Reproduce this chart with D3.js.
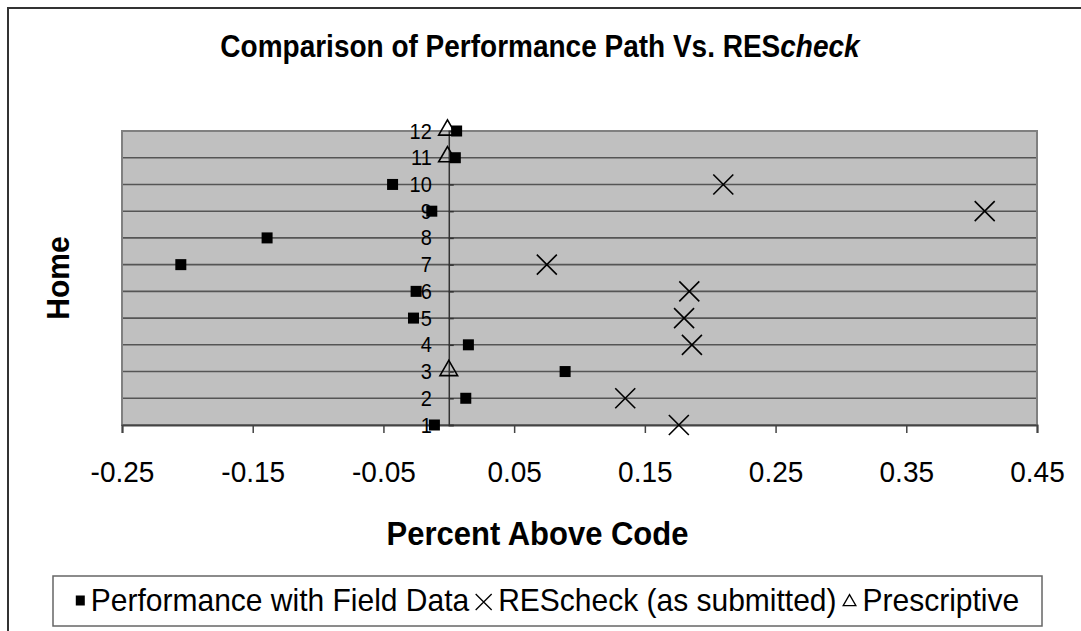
<!DOCTYPE html>
<html>
<head>
<meta charset="utf-8">
<script src="https://cdn.jsdelivr.net/npm/d3@7"></script>
<style>
  html, body { margin: 0; padding: 0; background: #fff; }
  svg { display: block; font-family: "Liberation Sans", Arial, sans-serif; }
</style>
</head>
<body>
<svg id="chart" width="1081" height="631"></svg>
<script>
// ---- Data ----
const homes = [1, 2, 3, 4, 5, 6, 7, 8, 9, 10, 11, 12];
const fieldData = [
  {home: 1, value: -0.011}, {home: 2, value: 0.013}, {home: 3, value: 0.089},
  {home: 4, value: 0.015}, {home: 5, value: -0.027}, {home: 6, value: -0.025},
  {home: 7, value: -0.205}, {home: 8, value: -0.139}, {home: 9, value: -0.013},
  {home: 10, value: -0.043}, {home: 11, value: 0.005}, {home: 12, value: 0.006}
];
const rescheck = [
  {home: 1, value: 0.176}, {home: 2, value: 0.135}, {home: 4, value: 0.186},
  {home: 5, value: 0.180}, {home: 6, value: 0.184}, {home: 7, value: 0.075},
  {home: 9, value: 0.410}, {home: 10, value: 0.210}
];
const prescriptive = [
  {home: 3, value: 0.0}, {home: 11, value: -0.001}, {home: 12, value: -0.001}
];
const xTicks = [-0.25, -0.15, -0.05, 0.05, 0.15, 0.25, 0.35, 0.45];
const legendLabels = ["Performance with Field Data", "REScheck (as submitted)", "Prescriptive"];

// ---- Layout ----
const svg = d3.select("#chart");
const plot = {left: 122, right: 1037, top: 131, bottom: 425};

const x = d3.scaleLinear().domain([-0.25, 0.45]).range([plot.left, plot.right]);
const y = d3.scaleLinear().domain([1, 12]).range([plot.bottom, plot.top]);

// outer chart border
svg.append("rect").attr("x", 8).attr("y", 8).attr("width", 1200).attr("height", 800)
  .attr("fill", "#fff").attr("stroke", "#333").attr("stroke-width", 2);

// plot background
svg.append("rect")
  .attr("x", plot.left).attr("y", plot.top)
  .attr("width", plot.right - plot.left).attr("height", plot.bottom - plot.top)
  .attr("fill", "#C0C0C0");

// horizontal gridlines
svg.append("g").selectAll("line").data(homes.filter(h => h > 1 && h < 12)).join("line")
  .attr("x1", plot.left).attr("x2", plot.right)
  .attr("y1", d => y(d)).attr("y2", d => y(d))
  .attr("stroke", "#555").attr("stroke-width", 1.6);

// plot border
svg.append("rect")
  .attr("x", plot.left).attr("y", plot.top)
  .attr("width", plot.right - plot.left).attr("height", plot.bottom - plot.top)
  .attr("fill", "none").attr("stroke", "#808080").attr("stroke-width", 2);

// x axis (at bottom)
const xAxis = d3.axisBottom(x).tickValues(xTicks).tickSize(8).tickFormat(d3.format(".2f"));
const gx = svg.append("g").attr("transform", `translate(0,${plot.bottom})`).call(xAxis);
gx.select(".domain").attr("stroke", "#444").attr("stroke-width", 2);
gx.selectAll(".tick line").attr("stroke", "#444").attr("stroke-width", 1.5);
gx.selectAll(".tick text").attr("font-size", 28).attr("fill", "#000")
  .attr("font-family", "Liberation Sans, Arial, sans-serif")
  .attr("y", 0).attr("dy", 0)
  .attr("transform", "translate(0,57) scale(1,1.08)")
  .text(d => d3.format(".2f")(d).replace("−", "-"));

// y axis (crossing at x = 0)
const yAxis = d3.axisRight(y).tickValues(homes).tickSize(5).tickFormat(d3.format("d"));
const gy = svg.append("g").attr("transform", `translate(${x(0)},0)`).call(yAxis);
gy.select(".domain").attr("stroke", "#333").attr("stroke-width", 1.5);
gy.selectAll(".tick line").attr("stroke", "#333").attr("stroke-width", 1.5);
gy.selectAll(".tick text").attr("font-size", 20).attr("fill", "#000")
  .attr("font-family", "Liberation Sans, Arial, sans-serif")
  .attr("text-anchor", "end").attr("x", -17)
  .attr("transform", "scale(1,1.1)").attr("y", 0);
gy.selectAll(".tick text").attr("transform", "scale(1,1.1)");

// title
const title = svg.append("text").attr("text-anchor", "middle")
  .attr("transform", "translate(540,57) scale(1,1.1)")
  .attr("font-size", 28).attr("font-weight", "bold");
title.append("tspan").text("Comparison of Performance Path Vs. RES");
title.append("tspan").attr("font-style", "italic").text("check");

// axis titles
svg.append("text").attr("transform", `translate(${(plot.left + plot.right) / 2 - 42},545) scale(1,1.08)`)
  .attr("text-anchor", "middle").attr("font-size", 31).attr("font-weight", "bold")
  .text("Percent Above Code");
svg.append("text").attr("transform", "translate(69,278) rotate(-90) scale(1,1.05)")
  .attr("text-anchor", "middle").attr("font-size", 30).attr("font-weight", "bold")
  .text("Home");

// ---- markers ----
const triPath = d3.symbol().type(d3.symbolTriangle).size(135)();
function crossPath(s) {
  return `M${-s},${-s}L${s},${s}M${-s},${s}L${s},${-s}`;
}
const marks = svg.append("g");
marks.selectAll("path.tri").data(prescriptive).join("path").attr("class", "tri")
  .attr("d", triPath)
  .attr("transform", d => `translate(${x(d.value)},${y(d.home) - 1})`)
  .attr("fill", "none").attr("stroke", "#000").attr("stroke-width", 1.6);
marks.selectAll("path.cross").data(rescheck).join("path").attr("class", "cross")
  .attr("d", crossPath(10))
  .attr("transform", d => `translate(${x(d.value)},${y(d.home)})`)
  .attr("fill", "none").attr("stroke", "#000").attr("stroke-width", 1.6);
marks.selectAll("rect.sq").data(fieldData).join("rect").attr("class", "sq")
  .attr("x", d => x(d.value) - 5.5).attr("y", d => y(d.home) - 5.5)
  .attr("width", 11).attr("height", 11).attr("fill", "#000");

// ---- legend ----
const lg = {left: 53, right: 1042, top: 576, bottom: 626};
svg.append("rect").attr("x", lg.left).attr("y", lg.top)
  .attr("width", lg.right - lg.left).attr("height", lg.bottom - lg.top)
  .attr("fill", "#fff").attr("stroke", "#666").attr("stroke-width", 1.5);
const legendG = svg.append("g");
const ly = 600;
const markerW = [9, 17, 14];
let cx = 0;
legendLabels.forEach((lab, i) => {
  const g = legendG.append("g");
  const mx = cx + markerW[i] / 2;
  if (i === 0) {
    g.append("rect").attr("x", mx - 4.5).attr("y", ly - 4.5).attr("width", 9).attr("height", 10).attr("fill", "#000");
  } else if (i === 1) {
    g.append("path").attr("d", crossPath(8)).attr("transform", `translate(${mx},${ly + 2})`)
      .attr("stroke", "#000").attr("stroke-width", 1.3).attr("fill", "none");
  } else {
    g.append("path").attr("d", d3.symbol().type(d3.symbolTriangle).size(70)())
      .attr("transform", `translate(${mx},${ly + 2})`)
      .attr("stroke", "#000").attr("stroke-width", 1.3).attr("fill", "none");
  }
  const t = g.append("text").attr("transform", `translate(${cx + markerW[i] + 6},${ly + 11}) scale(1,1.05)`)
    .attr("font-size", 30).text(lab);
  cx = cx + markerW[i] + 6 + t.node().getComputedTextLength() + 6;
});
const totalW = cx - 6;
legendG.attr("transform", `translate(${(lg.left + lg.right) / 2 - totalW / 2},0)`);
</script>
</body>
</html>
